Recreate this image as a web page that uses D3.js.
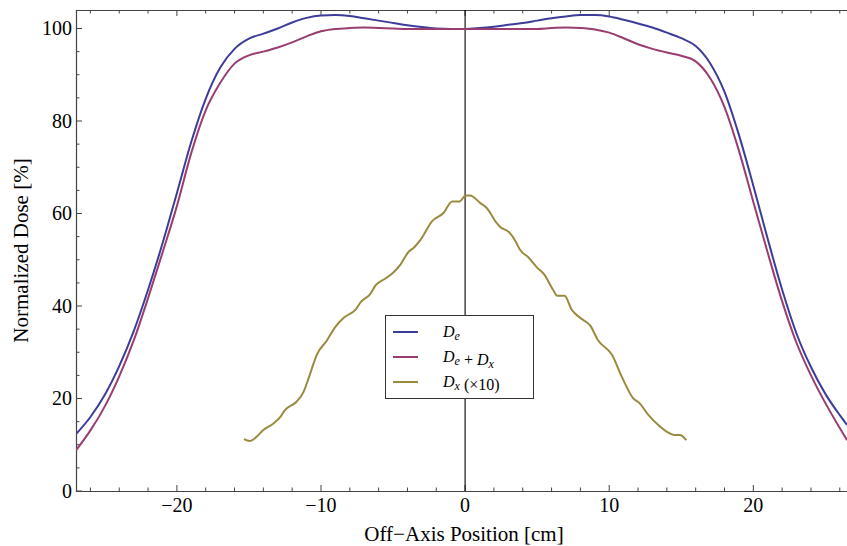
<!DOCTYPE html>
<html lang="en">
<head>
<meta charset="UTF-8">
<title>Normalized Dose vs Off-Axis Position</title>
<script src="https://d3js.org/d3.v7.min.js"></script>
<style>
    body { margin: 0; background: #fff; }
    svg text { font-family: "Liberation Serif", "DejaVu Serif", serif; fill: #000; }
    .line { fill: none; stroke-width: 2px; stroke-linejoin: round; }
</style>
</head>
<body>
<div id="chart"></div>
<script>
// off-axis positions shared by D_e and D_e + D_x
const xGrid = [-27, -26, -25, -24, -23, -22, -21, -20, -19, -18, -17, -16, -15, -14, -13, -12, -11, -10, -9, -8, -7, -6, -5, -4, -3, -2, -1, 0,
               1, 2, 3, 4, 5, 6, 7, 8, 9, 10, 11, 12, 13, 14, 15, 16, 17, 18, 19, 20, 21, 22, 23, 24, 25, 26, 26.5];

// D_e
const De = [12.3, 16.0, 20.8, 27.0, 34.5, 43.5, 53.5, 64.4, 75.5, 84.8, 91.5, 95.6, 97.8, 98.9, 100.0, 101.3, 102.3, 102.8, 102.9, 102.7, 102.2, 101.7, 101.2, 100.7, 100.3, 100.0, 99.9, 99.9,
            100.1, 100.4, 100.8, 101.2, 101.7, 102.2, 102.6, 102.9, 102.9, 102.6, 101.9, 101.1, 100.2, 99.1, 97.9, 96.2, 92.5, 86.3, 77.0, 66.0, 54.5, 43.5, 34.0, 26.8, 21.0, 16.4, 14.3];

// D_e + D_x
const DeDx = [8.8, 13.1, 18.3, 24.8, 32.5, 41.7, 51.5, 61.6, 73.1, 82.3, 88.2, 92.4, 94.2, 95.0, 95.9, 97.0, 98.3, 99.4, 99.9, 100.1, 100.2, 100.1, 100.0, 99.9, 99.9, 99.9, 99.9, 99.9,
              99.9, 99.9, 99.9, 99.9, 99.9, 100.1, 100.2, 100.1, 99.8, 99.1, 97.9, 96.6, 95.6, 94.8, 94.1, 92.9, 89.3, 83.0, 73.6, 62.5, 51.5, 41.0, 32.0, 25.0, 19.0, 13.6, 11.0];

// D_x scaled by 10
const xDx = [-15.35, -14.95, -14.45, -14.0, -13.3, -12.8, -12.5, -11.7, -11.2, -10.9, -10.6, -10.3, -9.6, -9.0, -8.4, -7.6, -7.2, -6.6, -6.2, -5.5, -5.0, -4.5, -3.9, -3.6, -3.1, -2.3, -1.5, -0.9, -0.4, 0.05, 0.35, 1.04, 1.5, 2.2, 2.4, 3.1, 3.5, 3.8, 4.4, 5.0, 5.5, 6.1, 6.4, 6.9, 7.4, 8.0, 8.7, 9.2, 10.2, 10.9, 11.65, 12.1, 12.7, 13.5, 14.0, 14.5, 14.9, 15.35];
const Dx  = [11.2, 10.8, 11.8, 13.2, 14.6, 16.1, 17.5, 19.3, 21.5, 24.0, 26.8, 29.4, 32.5, 35.5, 37.5, 39.2, 41, 42.5, 44.5, 46, 47.2, 48.9, 51.8, 52.5, 54.3, 58.3, 60.1, 62.6, 62.6, 63.9, 63.9, 62.3, 61.2, 57.9, 57.2, 55.8, 54.0, 52.2, 50.5, 48.3, 46.8, 43.5, 42.2, 42.2, 39.2, 37.4, 35.7, 32.7, 29.4, 24.5, 20.1, 19.0, 16.5, 14.0, 12.8, 12.1, 12.1, 11.0];

const xTicks = [-20, -10, 0, 10, 20];
const yTicks = [0, 20, 40, 60, 80, 100];

const W = 847, H = 546;
const pl = 76, pr = 847, pt = 10, pb = 491;

const svg = d3.select("#chart").append("svg")
    .attr("width", W).attr("height", H);

const x = d3.scaleLinear().domain([-27, 26.5]).range([pl, pr]);
const y = d3.scaleLinear().domain([0, 104]).range([pb, pt]);

const frame = "#444";

// minor/major ticks along bottom, top and left
const xMinor = d3.range(-26, 27, 2);
const yMinor = d3.range(0, 104, 5);

xMinor.forEach(v => {
    const major = v % 10 === 0;
    const len = major ? 6 : 3.5;
    svg.append("line").attr("x1", x(v)).attr("x2", x(v))
        .attr("y1", pb).attr("y2", pb - len).attr("stroke", frame);
    svg.append("line").attr("x1", x(v)).attr("x2", x(v))
        .attr("y1", pt).attr("y2", pt + len).attr("stroke", frame);
});
yMinor.forEach(v => {
    const major = v % 20 === 0;
    const len = major ? 6 : 3.5;
    svg.append("line").attr("x1", pl).attr("x2", pl + len)
        .attr("y1", y(v)).attr("y2", y(v)).attr("stroke", frame);
});

// frame
svg.append("path")
    .attr("d", `M${pr + 2},${pt + 0.5}H${pl + 0.5}V${pb + 0.5}H${pr + 2}`)
    .attr("fill", "none").attr("stroke", frame).attr("stroke-width", 1.2);

// vertical axis at x = 0
svg.append("line").attr("x1", x(0)).attr("x2", x(0))
    .attr("y1", pt).attr("y2", pb)
    .attr("stroke", "#000").attr("stroke-width", 1.1);

// tick labels
svg.selectAll(".xt").data(xTicks).enter().append("text")
    .attr("x", d => x(d)).attr("y", pb + 21)
    .attr("text-anchor", "middle").style("font-size", "20px")
    .text(d => d < 0 ? "\u2212" + Math.abs(d) : d);

svg.selectAll(".yt").data(yTicks).enter().append("text")
    .attr("x", pl - 4).attr("y", d => y(d) + 6.5)
    .attr("text-anchor", "end").style("font-size", "20px")
    .text(d => d);

// axis labels
svg.append("text").attr("x", 464).attr("y", 541)
    .attr("text-anchor", "middle").style("font-size", "21px")
    .text("Off\u2212Axis Position [cm]");

svg.append("text")
    .attr("transform", `translate(28, ${(pt + pb) / 2}) rotate(-90)`)
    .attr("text-anchor", "middle").style("font-size", "21px")
    .text("Normalized Dose [%]");

// curves
const colors = ["#3d3d99", "#993d71", "#998b3d"];
const series = [
    xGrid.map((d, i) => [d, De[i]]),
    xGrid.map((d, i) => [d, DeDx[i]]),
    xDx.map((d, i) => [d, Dx[i]])
];
const line = d3.line().x(d => x(d[0])).y(d => y(d[1])).curve(d3.curveMonotoneX);

svg.append("clipPath").attr("id", "plotclip").append("rect")
    .attr("x", pl).attr("y", pt).attr("width", pr - pl).attr("height", pb - pt);

series.forEach((s, i) => {
    svg.append("path").datum(s)
        .attr("class", "line")
        .attr("clip-path", "url(#plotclip)")
        .attr("stroke", colors[i])
        .attr("d", line);
});

// legend
const lg = svg.append("g");
lg.append("rect").attr("x", 385.5).attr("y", 315.5).attr("width", 148).attr("height", 83)
    .attr("fill", "#fff").attr("stroke", "#333").attr("stroke-width", 1);

const rowsY = [332, 357, 382];
rowsY.forEach((ry, i) => {
    lg.append("line").attr("x1", 393).attr("x2", 418)
        .attr("y1", ry).attr("y2", ry)
        .attr("stroke", colors[i]).attr("stroke-width", 2);
});

function addD(t, sub) {
    t.append("tspan").style("font-style", "italic").text("D");
    t.append("tspan").style("font-style", "italic").style("font-size", "12px")
        .attr("dy", 3).text(sub);
    t.append("tspan").attr("dy", -3).text("");
}

let t = lg.append("text").attr("x", 443).attr("y", rowsY[0] + 5).style("font-size", "16px");
addD(t, "e");

t = lg.append("text").attr("x", 443).attr("y", rowsY[1] + 5).style("font-size", "16px");
addD(t, "e");
t.append("tspan").text(" + ");
addD(t, "x");

t = lg.append("text").attr("x", 443).attr("y", rowsY[2] + 5).style("font-size", "16px");
addD(t, "x");
t.append("tspan").text(" (\u00d710)");
</script>
</body>
</html>
